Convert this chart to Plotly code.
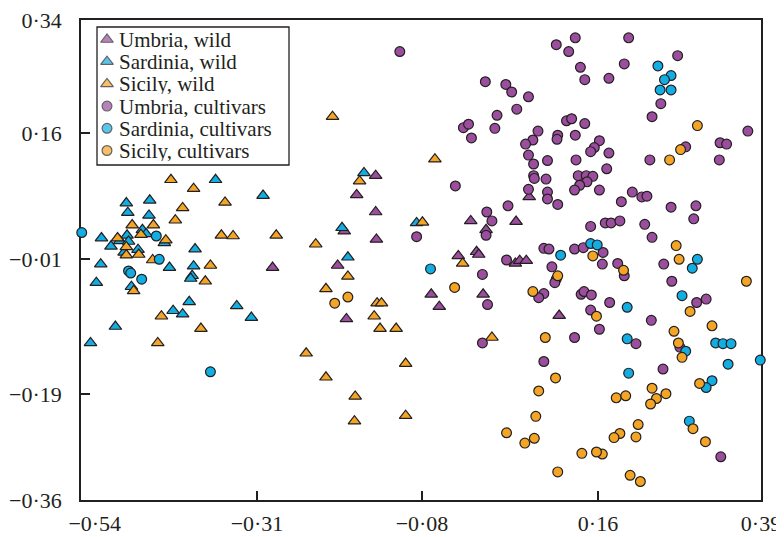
import plotly.graph_objects as go

# ---------------- data ----------------
series_names = ["Umbria, wild", "Sardinia, wild", "Sicily, wild",
                "Umbria, cultivars", "Sardinia, cultivars", "Sicily, cultivars"]

umbria_wild_x = [-0.278, -0.137, -0.163, -0.137, -0.007, -0.180, -0.136, 0.001, 0.004, -0.024,
                 -0.189, -0.061, -0.050, -0.177, 0.073, 0.055, 0.014, 0.054, 0.060, 0.069,
                 0.010, 0.114]
umbria_wild_y = [-0.021, 0.113, 0.085, 0.060, 0.047, 0.032, 0.020, 0.002, -0.002, -0.004,
                 -0.018, -0.060, -0.078, -0.096, 0.082, 0.046, 0.034, -0.015, -0.011, -0.011,
                 -0.060, -0.091]

sardinia_wild_x = [-0.356, -0.291, -0.478, -0.446, -0.476, -0.447, -0.512, -0.456, -0.451, -0.477,
                   -0.487, -0.499, -0.475, -0.426, -0.462, -0.481, -0.384, -0.513, -0.419, -0.386,
                   -0.388, -0.390, -0.519, -0.471, -0.392, -0.327, -0.414, -0.401, -0.307, -0.493,
                   -0.527, -0.153, -0.081, -0.183, -0.175]
sardinia_wild_y = [0.107, 0.084, 0.073, 0.077, 0.059, 0.055, 0.022, 0.034, 0.028, 0.026,
                   0.018, 0.010, 0.017, 0.015, 0.005, 0.001, 0.006, -0.016, -0.021, -0.019,
                   -0.033, -0.037, -0.043, -0.049, -0.071, -0.077, -0.084, -0.089, -0.094, -0.107,
                   -0.131, 0.117, 0.044, 0.037, -0.006]

sicily_wild_x = [-0.417, -0.386, -0.343, -0.401, -0.411, -0.470, -0.441, -0.458, -0.348, -0.332,
                 -0.273, -0.490, -0.478, -0.424, -0.461, -0.478, -0.442, -0.363, -0.370, -0.468,
                 -0.430, -0.376, -0.435, -0.232, -0.196, -0.056, -0.159, -0.073, -0.219, -0.018,
                 -0.175, -0.205, -0.135, -0.129, -0.139, -0.131, -0.109, -0.096, -0.205, -0.165,
                 -0.096, -0.166, 0.022]
sicily_wild_y = [0.107, 0.094, 0.074, 0.066, 0.048, 0.041, 0.041, 0.027, 0.026, 0.025,
                 0.026, 0.022, 0.009, 0.019, -0.002, -0.003, -0.010, -0.018, -0.041, -0.055,
                 -0.092, -0.110, -0.131, -0.146, 0.199, 0.137, 0.105, 0.045, 0.013, -0.015,
                 -0.034, -0.052, -0.073, -0.073, -0.092, -0.110, -0.110, -0.161, -0.181, -0.209,
                 -0.237, -0.245, -0.123]

umbria_cult_x = [-0.104, -0.017, -0.010, -0.006, -0.028, -0.081, 0.121, 0.136, 0.110, 0.127,
                 0.143, 0.149, 0.182, 0.013, 0.041, 0.049, 0.072, 0.029, 0.056, 0.026,
                 0.124, 0.131, 0.149, 0.085, 0.078, 0.068, 0.112, 0.111, 0.136, 0.169,
                 0.162, 0.157, 0.182, 0.072, 0.079, 0.098, 0.137, 0.179, 0.079, 0.080,
                 0.096, 0.140, 0.151, 0.160, 0.152, 0.142, 0.135, 0.169, 0.072, 0.098,
                 0.098, 0.112, 0.044, 0.015, 0.022, 0.014, 0.157, 0.177, 0.093, 0.100,
                 0.135, 0.147, 0.174, 0.042, 0.209, 0.203, 0.276, 0.253, 0.241, 0.372,
                 0.334, 0.343, 0.287, 0.238, 0.333, 0.214, 0.227, 0.234, 0.199, 0.267,
                 0.301, 0.298, 0.185, 0.197, 0.231, 0.241, 0.173, 0.194, 0.203, 0.257,
                 0.268, 0.302, 0.315, 0.183, 0.240, 0.169, 0.219, 0.279, 0.256, 0.335,
                 0.009, 0.016, 0.104, 0.110, 0.108, 0.093, 0.086, 0.144, 0.148, 0.158,
                 0.157, 0.135, 0.009, 0.093]
umbria_cult_y = [0.294, 0.183, 0.188, 0.168, 0.098, 0.024, 0.341, 0.314, 0.304, 0.294,
                 0.271, 0.253, 0.255, 0.250, 0.246, 0.235, 0.228, 0.201, 0.210, 0.182,
                 0.193, 0.196, 0.189, 0.178, 0.165, 0.159, 0.172, 0.166, 0.172, 0.164,
                 0.154, 0.148, 0.146, 0.143, 0.130, 0.135, 0.136, 0.123, 0.113, 0.109,
                 0.108, 0.113, 0.113, 0.112, 0.104, 0.099, 0.092, 0.092, 0.093, 0.089,
                 0.079, 0.071, 0.069, 0.060, 0.047, 0.026, 0.039, 0.044, 0.007, 0.006,
                 0.006, 0.008, 0.001, -0.010, 0.314, 0.276, 0.288, 0.218, 0.199, 0.178,
                 0.161, 0.159, 0.155, 0.136, 0.136, 0.089, 0.082, 0.083, 0.075, 0.067,
                 0.069, 0.050, 0.044, 0.047, 0.042, 0.023, -0.016, -0.015, -0.033, -0.016,
                 -0.041, -0.072, -0.067, -0.072, -0.098, -0.111, -0.132, -0.137, -0.169, -0.297,
                 -0.031, -0.075, -0.020, -0.038, -0.043, -0.059, -0.065, -0.060, -0.056, -0.061,
                 -0.083, -0.123, -0.131, -0.158]

sardinia_cult_x = [-0.539, -0.437, -0.433, -0.475, -0.472, -0.457, -0.363, -0.062, 0.116, 0.157,
                   0.166, 0.249, 0.267, 0.258, 0.252, 0.267, 0.303, 0.296, 0.282, 0.207,
                   0.207, 0.287, 0.328, 0.338, 0.349, 0.389, 0.345, 0.209, 0.323, 0.315,
                   0.292]
sardinia_cult_y = [0.030, 0.025, -0.009, -0.026, -0.029, -0.038, -0.173, -0.023, -0.003, 0.014,
                   0.012, 0.273, 0.259, 0.253, 0.238, 0.238, -0.009, -0.022, -0.062, -0.079,
                   -0.125, -0.143, -0.131, -0.132, -0.132, -0.156, -0.162, -0.175, -0.186, -0.196,
                   -0.245]

sicily_cult_x = [-0.175, -0.193, -0.029, 0.160, 0.303, 0.280, 0.265, 0.274, 0.278, 0.202,
                 0.370, 0.293, 0.271, 0.323, 0.277, 0.282, 0.306, 0.241, 0.260, 0.247,
                 0.239, 0.192, 0.205, 0.297, 0.222, 0.197, 0.189, 0.219, 0.314, 0.173,
                 0.211, 0.225, 0.205, 0.112, 0.078, 0.165, 0.095, 0.109, 0.086, 0.082,
                 0.042, 0.067, 0.080, 0.145, 0.165, 0.112]
sicily_cult_y = [-0.064, -0.073, -0.050, -0.004, 0.186, 0.151, 0.136, 0.011, -0.009, -0.025,
                 -0.041, -0.085, -0.114, -0.106, -0.131, -0.152, -0.190, -0.197, -0.205, -0.212,
                 -0.220, -0.211, -0.208, -0.256, -0.250, -0.263, -0.269, -0.268, -0.275, -0.293,
                 -0.324, -0.333, -0.361, -0.033, -0.056, -0.092, -0.123, -0.182, -0.201, -0.238,
                 -0.262, -0.277, -0.270, -0.292, -0.290, -0.319]

x_tick_labels = ["\u22120\u00b754", "\u22120\u00b731", "\u22120\u00b708", "0\u00b716", "0\u00b739"]
y_tick_labels = ["0\u00b734", "0\u00b716", "\u22120\u00b701", "\u22120\u00b719", "\u22120\u00b736"]

# ---------------- style / layout ----------------
W, H = 784, 537
PAGE_OFFSET = 8                      # default <body> margin of the html page
# plot-area edges as seen in the screenshot
SX0, SX1, SY0, SY1 = 81, 761, 20, 500
L, T = SX0 - PAGE_OFFSET, SY0 - PAGE_OFFSET
R, B = W - (SX1 - PAGE_OFFSET), H - (SY1 - PAGE_OFFSET)
PW, PH = SX1 - SX0, SY1 - SY0
X_RANGE = [-0.54, 0.39]
Y_RANGE = [-0.36, 0.34]
INK = "#231F20"
FONT = "Liberation Serif"
PURPLE, CYAN, ORANGE = "#9A4E9D", "#12AEE3", "#F4A526"

colors = [PURPLE, CYAN, ORANGE, PURPLE, CYAN, ORANGE]
symbols = ["triangle-up"] * 3 + ["circle"] * 3
sizes = [11] * 3 + [9.8] * 3
data = [(umbria_wild_x, umbria_wild_y), (sardinia_wild_x, sardinia_wild_y),
        (sicily_wild_x, sicily_wild_y), (umbria_cult_x, umbria_cult_y),
        (sardinia_cult_x, sardinia_cult_y), (sicily_cult_x, sicily_cult_y)]


def xval(px):
    return X_RANGE[0] + (px - SX0) / PW * (X_RANGE[1] - X_RANGE[0])


def yval(py):
    return Y_RANGE[1] - (py - SY0) / PH * (Y_RANGE[1] - Y_RANGE[0])


# tick marks sit where the reference draws them
x_tick_vals = [xval(p) for p in (81, 257, 422, 598, 761)]
y_tick_vals = [yval(p) for p in (20, 133, 259, 394, 500)]
x_tick_text = ["\u00a0" * 5 + x_tick_labels[0]] + x_tick_labels[1:]

fig = go.Figure()
for name, (xs, ys), col, sym, sz in zip(series_names, data, colors, symbols, sizes):
    fig.add_trace(go.Scatter(
        x=xs, y=ys, mode="markers", name=name, showlegend=False, cliponaxis=False,
        marker=dict(symbol=sym, size=sz, color=col, line=dict(color=INK, width=1.2)),
    ))


# legend (drawn as a boxed key in the upper-left corner)
def px_to_paper_x(px):
    return (px - SX0) / PW


def px_to_paper_y(py):
    return 1 - (py - SY0) / PH


row0, row_step = 39.5, 22.2
rows = [px_to_paper_y(row0 + i * row_step) for i in range(len(series_names))]
fig.add_trace(go.Scatter(
    x=[px_to_paper_x(107)] * len(series_names), y=rows, mode="markers",
    xaxis="x2", yaxis="y2", showlegend=False, hoverinfo="skip", cliponaxis=False,
    marker=dict(symbol=symbols, size=sizes, color=colors, line=dict(color=INK, width=1.2)),
))
for name, yy in zip(series_names, rows):
    fig.add_annotation(x=px_to_paper_x(118), y=yy, xref="paper", yref="paper",
                       text=name, showarrow=False, xanchor="left", yanchor="middle",
                       height=21, borderpad=0,
                       font=dict(family=FONT, size=21, color=INK))
fig.add_shape(type="rect", xref="paper", yref="paper",
              x0=px_to_paper_x(97), x1=px_to_paper_x(289),
              y0=px_to_paper_y(165), y1=px_to_paper_y(27),
              line=dict(color=INK, width=1.3), fillcolor="white", layer="below")

axis_common = dict(showgrid=False, zeroline=False, showline=True, linecolor=INK, linewidth=1.5,
                   mirror=True, ticks="inside", ticklen=9, tickwidth=1.5, tickcolor=INK,
                   layer="below traces", automargin=False, ticklabeloverflow="allow",
                   tickfont=dict(family=FONT, size=22, color=INK))

fig.update_layout(
    width=W, height=H,
    margin=dict(l=L, r=R, t=T, b=B, pad=0, autoexpand=False),
    paper_bgcolor="white", plot_bgcolor="white",
    showlegend=False,
    xaxis=dict(range=X_RANGE, tickmode="array", tickvals=x_tick_vals, ticktext=x_tick_text,
               ticklabelstandoff=3, **axis_common),
    yaxis=dict(range=Y_RANGE, tickmode="array", tickvals=y_tick_vals, ticktext=y_tick_labels,
               ticklabelstandoff=13, **axis_common),
    xaxis2=dict(range=[0, 1], overlaying="x", visible=False, anchor="y2"),
    yaxis2=dict(range=[0, 1], overlaying="y", visible=False, anchor="x2"),
)

fig.write_html("out.html")
